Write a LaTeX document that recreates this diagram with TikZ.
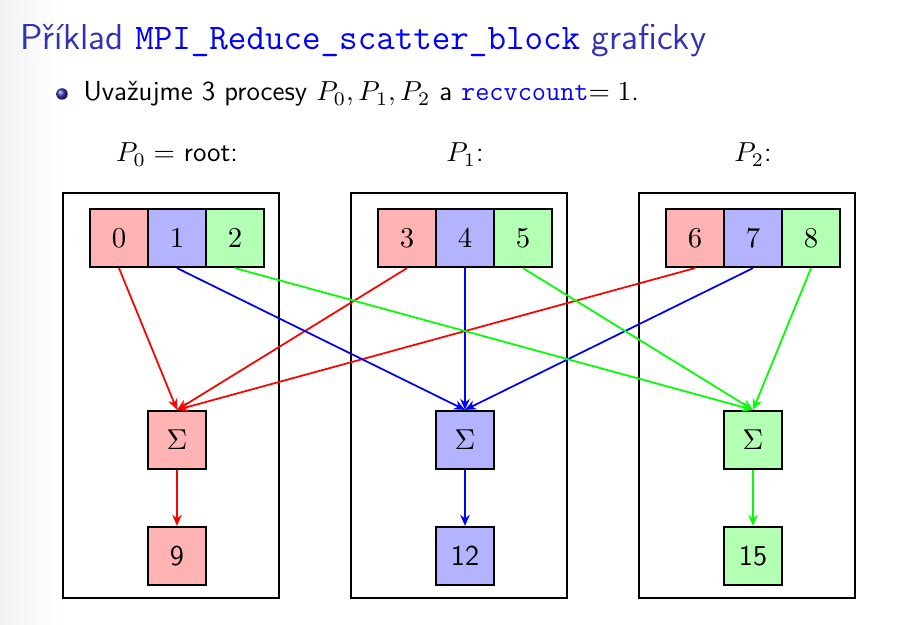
\RequirePackage{fix-cm}
\documentclass[tikz,border=0pt]{standalone}
\usepackage{fontspec}
\renewcommand\familydefault{\sfdefault}
\usetikzlibrary{arrows.meta}
\definecolor{titleblue}{RGB}{51,51,178}
\definecolor{cellred}{RGB}{255,179,179}
\definecolor{cellblue}{RGB}{179,179,255}
\definecolor{cellgreen}{RGB}{179,255,179}
\definecolor{arrred}{RGB}{255,0,0}
\definecolor{arrblue}{RGB}{0,0,255}
\definecolor{arrgreen}{RGB}{0,255,0}
\tikzset{
  cell/.style={draw=black, line width=0.9pt, minimum size=23.2pt, inner sep=0pt,
    font=\fontsize{11.5}{13}\selectfont},
  procbox/.style={draw=black, line width=0.9pt, minimum width=86.4pt, minimum height=162pt, inner sep=0pt},
  flow/.style={line width=0.7pt, -{Stealth[length=4.4pt,width=3.8pt]}},
  lbl/.style={anchor=base, font=\fontsize{11}{13}\selectfont},
}
\begin{document}
\begin{tikzpicture}[x=0.4pt,y=-0.4pt]
\useasboundingbox (0,0) rectangle (914,625);
\fill[white] (0,0) rectangle (914,625);
\shade[left color=black!5, right color=white] (0,0) rectangle (60,625);
% title
\node[anchor=base west, inner sep=0pt, text=titleblue, font=\fontsize{14.4}{17}\selectfont] (title) at (20,50)
  {Příklad \textcolor{arrblue}{\ttfamily MPI\_Reduce\_scatter\_block} graficky};
% bullet
\shade[ball color=titleblue] (62,94) circle (2.3pt);
\node[anchor=base west, inner sep=0pt, font=\fontsize{11}{13}\selectfont] (body) at (83,101)
  {Uvažujme 3 procesy $P_0, P_1, P_2$ a \textcolor{arrblue}{\ttfamily recvcount}$=1$.};
% labels
\node[lbl] (l0) at (177,162) {$P_0 =$ root:};
\node[lbl] (l1) at (465,162) {$P_1$:};
\node[lbl] (l2) at (753,162) {$P_2$:};
% process boxes
\foreach \i in {0,1,2}{
  \node[procbox] (box\i) at (171+288*\i,395.5) {};
}
% cells
\foreach \i/\a/\b/\c in {0/0/1/2, 1/3/4/5, 2/6/7/8}{
  \node[cell, fill=cellred]   (c\i0) at (119+288*\i,238) {$\a$};
  \node[cell, fill=cellblue]  (c\i1) at (177+288*\i,238) {$\b$};
  \node[cell, fill=cellgreen] (c\i2) at (235+288*\i,238) {$\c$};
}
% sums and results
\node[cell, fill=cellred]   (s0) at (177,440) {$\Sigma$};
\node[cell, fill=cellblue]  (s1) at (465,440) {$\Sigma$};
\node[cell, fill=cellgreen] (s2) at (753,440) {$\Sigma$};
\node[cell, fill=cellred]   (r0) at (177,556) {9};
\node[cell, fill=cellblue]  (r1) at (465,556) {12};
\node[cell, fill=cellgreen] (r2) at (753,556) {15};
% arrows
\foreach \j/\col in {0/arrred, 1/arrblue, 2/arrgreen}{
  \foreach \i in {0,1,2}{
    \draw[flow, \col] (c\i\j.south) -- (s\j.north);
  }
  \draw[flow, \col] (s\j.south) -- (r\j.north);
}
\end{tikzpicture}
\end{document}
